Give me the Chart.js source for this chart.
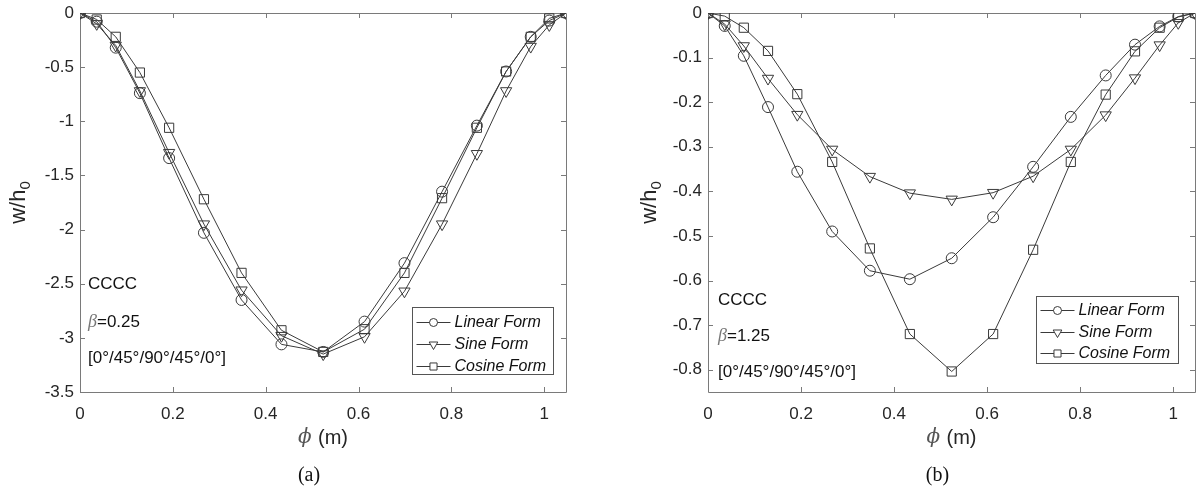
<!DOCTYPE html>
<html>
<head>
<meta charset="utf-8">
<script src="https://cdn.jsdelivr.net/npm/chart.js@4.4.1/dist/chart.umd.min.js"></script>
<style>
html, body { margin: 0; padding: 0; background: #fff; }
#wrap { position: relative; width: 1196px; height: 492px; overflow: hidden; }
canvas { position: absolute; top: 0; }
#chartA { left: 0; }
#chartB { left: 620px; }
</style>
</head>
<body>
<div id="wrap">
  <canvas id="chartA" width="620" height="492"></canvas>
  <canvas id="chartB" width="576" height="492"></canvas>
</div>
<script>
// positions along the plate, phi (m)
const phi = [0, 0.036, 0.077, 0.129, 0.192, 0.267, 0.348, 0.434, 0.524, 0.613, 0.699, 0.780, 0.855, 0.918, 0.971, 1.011, 1.047];
const phiMax = 1.047;
const xTicks = [0, 0.2, 0.4, 0.6, 0.8, 1];

// (a) beta = 0.25
const linearA = [0, -0.08, -0.32, -0.74, -1.34, -2.03, -2.65, -3.06, -3.13, -2.85, -2.31, -1.65, -1.04, -0.54, -0.22, -0.07, 0];
const sineA   = [0, -0.10, -0.30, -0.72, -1.29, -1.95, -2.56, -2.98, -3.15, -2.99, -2.57, -1.95, -1.30, -0.72, -0.31, -0.11, 0];
const cosineA = [0, -0.06, -0.22, -0.55, -1.06, -1.72, -2.40, -2.93, -3.13, -2.92, -2.40, -1.71, -1.06, -0.54, -0.22, -0.05, 0];
const yTicksA = [-3.5, -3, -2.5, -2, -1.5, -1, -0.5, 0];

// (b) beta = 1.25
const linearB = [0, -0.029, -0.096, -0.211, -0.356, -0.490, -0.578, -0.597, -0.550, -0.458, -0.345, -0.233, -0.140, -0.071, -0.030, -0.008, 0];
const sineB   = [0, -0.025, -0.074, -0.147, -0.228, -0.306, -0.367, -0.404, -0.418, -0.403, -0.366, -0.306, -0.229, -0.146, -0.072, -0.022, 0];
const cosineB = [0, -0.007, -0.033, -0.085, -0.182, -0.334, -0.528, -0.720, -0.804, -0.720, -0.531, -0.334, -0.183, -0.086, -0.033, -0.009, 0];
const yTicksB = [-0.8, -0.7, -0.6, -0.5, -0.4, -0.3, -0.2, -0.1, 0];

const seriesNames = ['Linear Form', 'Sine Form', 'Cosine Form'];

const lineColor = '#3a3a3a';
const axisColor = '#7a7a7a';
const textColor = '#262626';
const sans = '"Liberation Sans", Arial, Helvetica, sans-serif';

function series(name, vals, style, radius, rot) {
    return {
        label: name,
        data: vals.map((v, i) => ({ x: phi[i], y: v })),
        borderColor: lineColor,
        borderWidth: 1,
        pointStyle: style,
        pointRadius: radius,
        pointRotation: rot,
        pointBorderColor: lineColor,
        pointBorderWidth: 1,
        pointBackgroundColor: 'rgba(0,0,0,0)',
        tension: 0,
        fill: false
    };
}

// box, inward ticks, titles, notes and legend, matlab style
const framePlugin = {
    id: 'frame',
    beforeDatasetsDraw(chart, args, opts) {
        const ctx = chart.ctx, a = chart.chartArea;
        const xs = chart.scales.x, ys = chart.scales.y;
        ctx.save();
        ctx.strokeStyle = axisColor;
        ctx.lineWidth = 1;
        ctx.beginPath();
        ctx.rect(Math.round(a.left) + 0.5, Math.round(a.top) + 0.5, Math.round(a.right - a.left), Math.round(a.bottom - a.top));
        xs.ticks.forEach(t => {
            const px = Math.round(xs.getPixelForValue(t.value)) + 0.5;
            ctx.moveTo(px, a.bottom); ctx.lineTo(px, a.bottom - 5);
            ctx.moveTo(px, a.top); ctx.lineTo(px, a.top + 5);
        });
        ys.ticks.forEach(t => {
            const py = Math.round(ys.getPixelForValue(t.value)) + 0.5;
            ctx.moveTo(a.left, py); ctx.lineTo(a.left + 5, py);
            ctx.moveTo(a.right, py); ctx.lineTo(a.right - 5, py);
        });
        ctx.stroke();
        ctx.restore();
    },
    afterDraw(chart, args, opts) {
        const ctx = chart.ctx, a = chart.chartArea;
        const cx = (a.left + a.right) / 2;
        ctx.save();
        ctx.textBaseline = 'middle';

        // y title w/h0
        ctx.save();
        ctx.translate(opts.yTitleX, (a.top + a.bottom) / 2);
        ctx.rotate(-Math.PI / 2);
        ctx.font = '22px ' + sans;
        const w1 = ctx.measureText('w/h').width;
        ctx.font = '15px ' + sans;
        const w2 = ctx.measureText('0').width;
        ctx.fillStyle = textColor;
        ctx.textAlign = 'left';
        ctx.font = '22px ' + sans;
        ctx.fillText('w/h', -(w1 + w2) / 2, 0);
        ctx.font = '15px ' + sans;
        ctx.fillText('0', -(w1 + w2) / 2 + w1, 7);
        ctx.restore();

        // x title
        ctx.font = 'italic 20px "DejaVu Serif", "Liberation Serif", serif';
        const p1 = ctx.measureText('\u03D5 ').width;
        ctx.font = '20px ' + sans;
        const p2 = ctx.measureText('(m)').width;
        ctx.textAlign = 'left';
        ctx.font = 'italic 20px "DejaVu Serif", "Liberation Serif", serif';
        ctx.fillStyle = '#555';
        ctx.fillText('\u03D5', cx - (p1 + p2) / 2, 438);
        ctx.font = '20px ' + sans;
        ctx.fillStyle = textColor;
        ctx.fillText('(m)', cx - (p1 + p2) / 2 + p1, 438);

        // panel label
        ctx.font = '20px "Liberation Serif", "Times New Roman", serif';
        ctx.fillStyle = '#111';
        ctx.textAlign = 'center';
        ctx.fillText(opts.panel, cx - 14, 476);

        // notes
        const nx = a.left + opts.noteX;
        ctx.textAlign = 'left';
        ctx.font = '17px ' + sans;
        ctx.fillStyle = '#111';
        ctx.fillText('CCCC', nx, opts.noteY[0]);
        ctx.font = 'italic 18px "Liberation Serif", serif';
        ctx.fillStyle = '#777';
        ctx.fillText('\u03B2', nx, opts.noteY[1]);
        const bw = ctx.measureText('\u03B2').width;
        ctx.font = '17px ' + sans;
        ctx.fillStyle = '#111';
        ctx.fillText('=' + opts.beta, nx + bw, opts.noteY[1]);
        ctx.fillText('[0\u00B0/45\u00B0/90\u00B0/45\u00B0/0\u00B0]', nx, opts.noteY[2]);

        // legend
        const lg = opts.legend;
        const bx = Math.round(a.right - lg.right - lg.width) + 0.5;
        const by = Math.round(a.bottom - lg.bottom - lg.height) + 0.5;
        ctx.fillStyle = '#fff';
        ctx.fillRect(bx, by, lg.width, lg.height);
        ctx.strokeStyle = '#555';
        ctx.lineWidth = 1;
        ctx.strokeRect(bx, by, lg.width, lg.height);
        chart.data.datasets.forEach((ds, i) => {
            const ry = Math.round(by + lg.rows[i]) + 0.5;
            ctx.strokeStyle = lineColor;
            ctx.beginPath();
            ctx.moveTo(bx + 4, ry); ctx.lineTo(bx + 38, ry);
            ctx.stroke();
            ctx.fillStyle = '#fff';
            Chart.helpers.drawPoint(ctx, {
                pointStyle: ds.pointStyle,
                rotation: ds.pointRotation,
                radius: ds.pointStyle === 'circle' ? 4 : 5,
                borderWidth: 1
            }, bx + 21, ry);
            ctx.fillStyle = '#111';
            ctx.font = 'italic 16px ' + sans;
            ctx.textAlign = 'left';
            ctx.fillText(ds.label, bx + 42, ry);
        });
        ctx.restore();
    }
};

function makeChart(id, vals, yTicks, yMin, extra) {
    return new Chart(document.getElementById(id), {
        type: 'line',
        data: {
            datasets: [
                series(seriesNames[0], vals[0], 'circle', 5.5, 0),
                series(seriesNames[1], vals[1], 'triangle', 6.5, 180),
                series(seriesNames[2], vals[2], 'rect', 6.5, 0)
            ]
        },
        options: {
            responsive: false,
            animation: false,
            layout: { autoPadding: false, padding: { left: 0, top: 13, right: extra.padRight, bottom: 60 } },
            plugins: {
                legend: { display: false },
                tooltip: { enabled: false },
                frame: extra.frame
            },
            scales: {
                x: {
                    type: 'linear',
                    min: 0,
                    max: phiMax,
                    afterBuildTicks: s => { s.ticks = xTicks.map(v => ({ value: v })); },
                    afterFit: s => { s.height = 40; s.paddingLeft = 0; s.paddingRight = 0; },
                    grid: { display: false, drawTicks: false },
                    border: { display: false },
                    ticks: {
                        padding: 12,
                        color: textColor,
                        font: { family: sans, size: 17 },
                        maxRotation: 0,
                        callback: v => String(v)
                    }
                },
                y: {
                    type: 'linear',
                    min: yMin,
                    max: 0,
                    afterBuildTicks: s => { s.ticks = yTicks.map(v => ({ value: v })); },
                    afterFit: s => { s.width = extra.yWidth; s.paddingTop = 0; s.paddingBottom = 0; },
                    grid: { display: false, drawTicks: false },
                    border: { display: false },
                    ticks: {
                        padding: 6,
                        color: textColor,
                        font: { family: sans, size: 17 },
                        callback: v => String(v)
                    }
                }
            }
        },
        plugins: [framePlugin]
    });
}

makeChart('chartA', [linearA, sineA, cosineA], yTicksA, -3.5, {
    padRight: 54,
    yWidth: 80,
    frame: {
        yTitleX: 19,
        panel: '(a)',
        beta: '0.25',
        noteX: 8,
        noteY: [284, 322, 358],
        legend: { right: 13, bottom: 18, width: 141, height: 67, rows: [14.5, 36.5, 58] }
    }
});

makeChart('chartB', [linearB, sineB, cosineB], yTicksB, -0.85, {
    padRight: 1,
    yWidth: 88,
    frame: {
        yTitleX: 30,
        panel: '(b)',
        beta: '1.25',
        noteX: 10,
        noteY: [300, 336, 372],
        legend: { right: 17, bottom: 29, width: 142, height: 67, rows: [13.5, 35, 56] }
    }
});
</script>
</body>
</html>
